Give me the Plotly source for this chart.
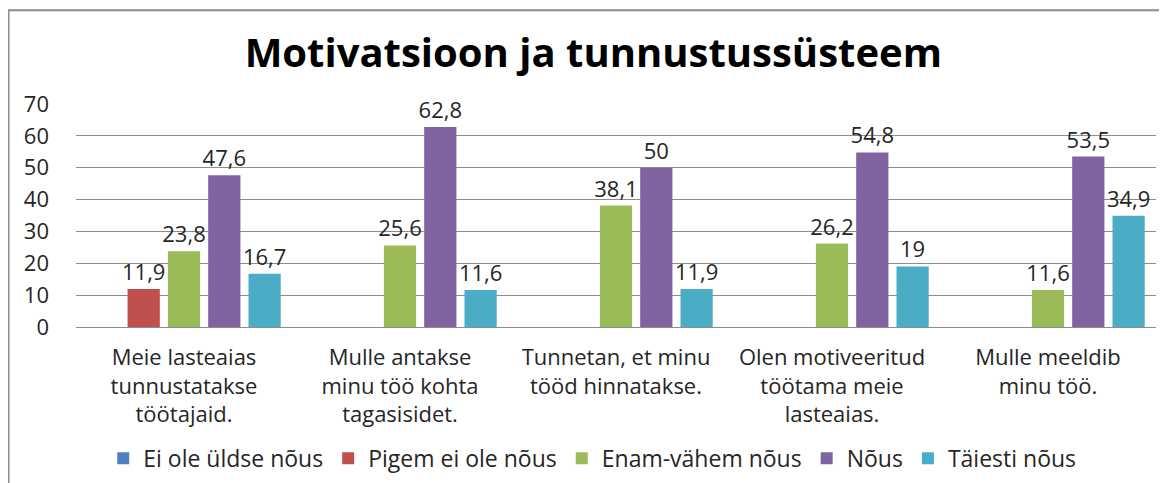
import plotly.graph_objects as go

categories = [
    "Meie lasteaias<br>tunnustatakse<br>töötajaid.",
    "Mulle antakse<br>minu töö kohta<br>tagasisidet.",
    "Tunnetan, et minu<br>tööd hinnatakse.",
    "Olen motiveeritud<br>töötama meie<br>lasteaias.",
    "Mulle meeldib<br>minu töö.",
]
series_names = ["Ei ole üldse nõus", "Pigem ei ole nõus", "Enam-vähem nõus", "Nõus", "Täiesti nõus"]
ei_ole_uldse = [None, None, None, None, None]
pigem_ei_ole = [11.9, None, None, None, None]
enam_vahem = [23.8, 25.6, 38.1, 26.2, 11.6]
nous = [47.6, 62.8, 50, 54.8, 53.5]
taiesti = [16.7, 11.6, 11.9, 19, 34.9]
colors = ["#4F81BD", "#C0504D", "#9BBB59", "#8064A2", "#4BACC6"]
y_ticks = [0, 10, 20, 30, 40, 50, 60, 70]

FONT = "'Open Sans', Lato, sans-serif"
TXT = "#262626"
FS = 22

def fmt(v):
    if v is None:
        return ""
    return ("%g" % v).replace(".", ",")

fig = go.Figure()
for name, vals, col in zip(series_names, [ei_ole_uldse, pigem_ei_ole, enam_vahem, nous, taiesti], colors):
    fig.add_trace(go.Bar(
        x=categories, y=vals, name=name,
        marker=dict(color=col, line=dict(width=0)),
        text=[fmt(v) for v in vals], textposition="outside",
        textfont=dict(family=FONT, size=FS, color=TXT),
        constraintext="none",
        cliponaxis=False,
    ))

fig.update_layout(
    width=1159, height=475,
    paper_bgcolor="white", plot_bgcolor="white",
    margin=dict(l=68, r=11, t=96, b=156, autoexpand=False),
    barmode="group", bargap=0.067, bargroupgap=0.2,
    title=dict(text="<b>Motivatsioon ja tunnustussüsteem</b>", x=0.505, xanchor="center",
               y=0.905, yanchor="middle",
               font=dict(family=FONT, size=40, color="black")),
    font=dict(family=FONT, size=FS, color=TXT),
    showlegend=True,
    legend=dict(orientation="h", x=0.478, xanchor="center", yref="container", y=0.052, yanchor="middle",
                font=dict(family=FONT, size=23, color=TXT),
                itemwidth=30, traceorder="normal"),
)
fig.update_yaxes(range=[0, 70], tickvals=y_ticks, showgrid=True, gridcolor="#8c8c8c", gridwidth=1,
                 zeroline=True, zerolinecolor="#8c8c8c", zerolinewidth=1, showline=False, automargin=False,
                 ticks="", tickfont=dict(family=FONT, size=FS, color=TXT), ticklabelstandoff=26)
fig.update_xaxes(showgrid=False, showline=False, ticks="", tickangle=0, automargin=False,
                 tickfont=dict(family=FONT, size=FS, color=TXT), ticklabelstandoff=15)

fig.add_shape(type="rect", xref="paper", yref="paper", x0=-0.0625, x1=1.05, y0=-0.8, y1=1.42,
              line=dict(color="#8c8c8c", width=2), fillcolor="rgba(0,0,0,0)", layer="below")

fig.write_html("out.html")
